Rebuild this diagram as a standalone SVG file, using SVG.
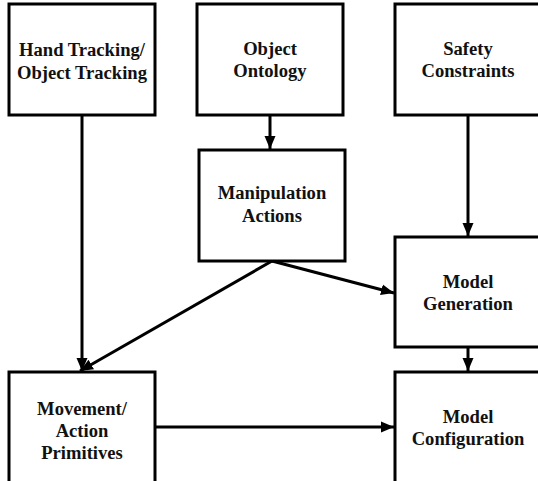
<svg xmlns="http://www.w3.org/2000/svg" width="538" height="481" viewBox="0 0 538 481">
<defs>
<style>
.box{fill:#fff;stroke:#000;stroke-width:3}
.t{font-family:"Liberation Serif","Times New Roman",serif;font-weight:bold;font-size:18.6px;fill:#111;text-anchor:middle}
.c{stroke:#000;stroke-width:3;fill:none;marker-end:url(#ah)}
</style>
<marker id="ah" markerUnits="userSpaceOnUse" markerWidth="13" markerHeight="13" viewBox="0 0 13 13" refX="13" refY="6.5" orient="auto">
<path d="M0,1 L13,6.5 L0,12 Z" fill="#000"/>
</marker>
</defs>
<rect width="538" height="481" fill="#fff"/>
<g id="connectors">
<line class="c" x1="82" y1="115" x2="82" y2="371"/>
<line class="c" x1="270" y1="115" x2="270" y2="149"/>
<line class="c" x1="468" y1="115" x2="468" y2="236"/>
<line class="c" x1="272" y1="261" x2="394" y2="293"/>
<line class="c" x1="272" y1="261" x2="80" y2="371"/>
<line class="c" x1="468" y1="347" x2="468" y2="371"/>
<line class="c" x1="155" y1="427" x2="394" y2="427"/>
</g>
<g id="hand-tracking">
<rect class="box" x="9" y="4" width="146" height="111"/>
<text class="t" x="82" y="56">Hand Tracking/</text>
<text class="t" x="82" y="79">Object Tracking</text>
</g>
<g id="object-ontology">
<rect class="box" x="197" y="4" width="146" height="111"/>
<text class="t" x="270" y="55">Object</text>
<text class="t" x="270" y="77">Ontology</text>
</g>
<g id="safety-constraints">
<rect class="box" x="395" y="4" width="160" height="111"/>
<text class="t" x="468" y="55">Safety</text>
<text class="t" x="468" y="77">Constraints</text>
</g>
<g id="manipulation-actions">
<rect class="box" x="199" y="150" width="146" height="111"/>
<text class="t" x="272" y="199">Manipulation</text>
<text class="t" x="272" y="222">Actions</text>
</g>
<g id="model-generation">
<rect class="box" x="395" y="237" width="160" height="110"/>
<text class="t" x="468" y="288">Model</text>
<text class="t" x="468" y="310">Generation</text>
</g>
<g id="movement-primitives">
<rect class="box" x="9" y="372" width="146" height="130"/>
<text class="t" x="82" y="415">Movement/</text>
<text class="t" x="82" y="437">Action</text>
<text class="t" x="82" y="459">Primitives</text>
</g>
<g id="model-configuration">
<rect class="box" x="395" y="372" width="160" height="130"/>
<text class="t" x="468" y="423">Model</text>
<text class="t" x="468" y="445">Configuration</text>
</g>
</svg>
